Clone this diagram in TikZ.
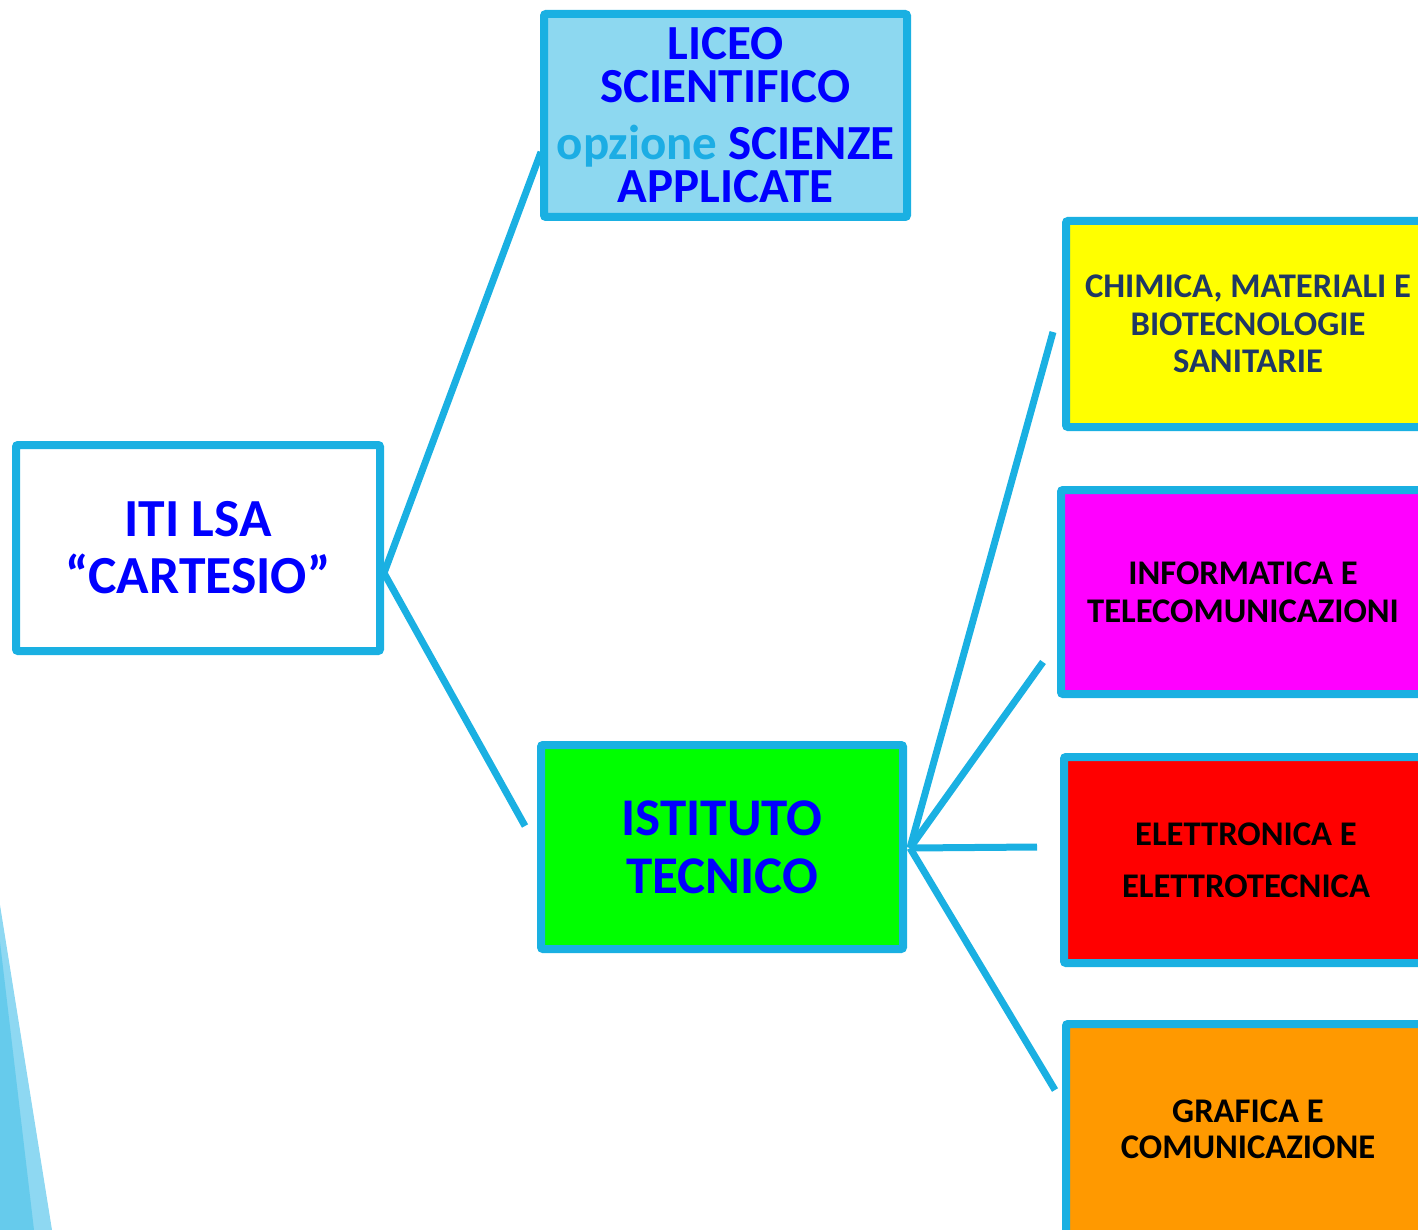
\documentclass[tikz,border=0pt]{standalone}
\usepackage{fontspec}
\setmainfont{Carlito}
\usetikzlibrary{calc}
\definecolor{edgeblue}{HTML}{1AB0E2}
\definecolor{liceofill}{HTML}{8DD8F0}
\definecolor{opzblue}{HTML}{1CADE4}
\definecolor{navy}{HTML}{1F3864}
\definecolor{decodark}{HTML}{66CBEC}
\definecolor{decolight}{HTML}{8ED8F2}
\definecolor{orangefill}{HTML}{FF9900}
\definecolor{yellowfill}{HTML}{FFFF00}
\definecolor{magentafill}{HTML}{FF00FF}
\definecolor{redfill}{HTML}{FF0000}
\definecolor{greenfill}{HTML}{00FF00}
\definecolor{bluetext}{HTML}{0000FF}
\tikzset{
  boxstyle/.style={draw=edgeblue, line width=4pt, rounded corners=1pt, align=center, inner sep=0pt, font=\bfseries},
  linkstyle/.style={draw=edgeblue, line width=3.5pt},
}
\begin{document}
\begin{tikzpicture}[x=0.5pt,y=-0.5pt]
\useasboundingbox (0,0) rectangle (1418,1230);
\clip (0,0) rectangle (1418,1230);
% decoration
\fill[decolight] (0,905) -- (52,1230) -- (0,1230) -- cycle;
\fill[decodark] (0,942) -- (34,1230) -- (0,1230) -- cycle;
% boxes
\node[boxstyle, fill=white, minimum width=182pt, minimum height=103pt, text=bluetext,
  font=\bfseries\fontsize{26.8}{28.5}\selectfont] (iti) at (198,548) {ITI LSA\\“CARTESIO”};
\node[boxstyle, fill=liceofill, minimum width=181.5pt, minimum height=101.5pt, text=bluetext,
  font=\bfseries\fontsize{24.5}{21.5}\selectfont] (liceo) at (725.5,115.5)
  {LICEO\\SCIENTIFICO\\[7pt]\textcolor{opzblue}{opzione} SCIENZE\\APPLICATE};
\node[boxstyle, fill=greenfill, minimum width=181pt, minimum height=102pt, text=bluetext,
  font=\bfseries\fontsize{26.5}{29}\selectfont] (ist) at (722,847) {ISTITUTO\\TECNICO};
\node[boxstyle, fill=yellowfill, minimum width=182pt, minimum height=103pt, text=navy,
  font=\bfseries\fontsize{17.3}{18.75}\selectfont] (chim) at (1248,324)
  {CHIMICA, MATERIALI E\\BIOTECNOLOGIE\\SANITARIE};
\node[boxstyle, fill=magentafill, minimum width=182pt, minimum height=102pt, text=black,
  font=\bfseries\fontsize{17.3}{19}\selectfont] (info) at (1243,592)
  {INFORMATICA E\\TELECOMUNICAZIONI};
\node[boxstyle, fill=redfill, minimum width=182pt, minimum height=103pt, text=black,
  font=\bfseries\fontsize{17.3}{26}\selectfont] (elet) at (1246,860)
  {ELETTRONICA E\\ELETTROTECNICA};
\node[boxstyle, fill=orangefill, minimum width=182pt, minimum height=105pt, text=black,
  font=\bfseries\fontsize{17.3}{18}\selectfont] (graf) at (1248,1129)
  {GRAFICA E\\COMUNICAZIONE};
% connector points
\coordinate (j1) at (384,573);
\coordinate (l1) at (541,152);
\coordinate (l2) at (525,826);
\coordinate (j2) at (910,848);
\coordinate (r1) at (1053,332);
\coordinate (r2) at (1043,662);
\coordinate (r3) at (1037,847);
\coordinate (r4) at (1055,1090);
\draw[linkstyle] (l1) -- (j1) -- (l2);
\draw[linkstyle] (j2) -- (r1);
\draw[linkstyle] (j2) -- (r2);
\draw[linkstyle] (j2) -- (r3);
\draw[linkstyle] (j2) -- (r4);
\end{tikzpicture}
\end{document}
